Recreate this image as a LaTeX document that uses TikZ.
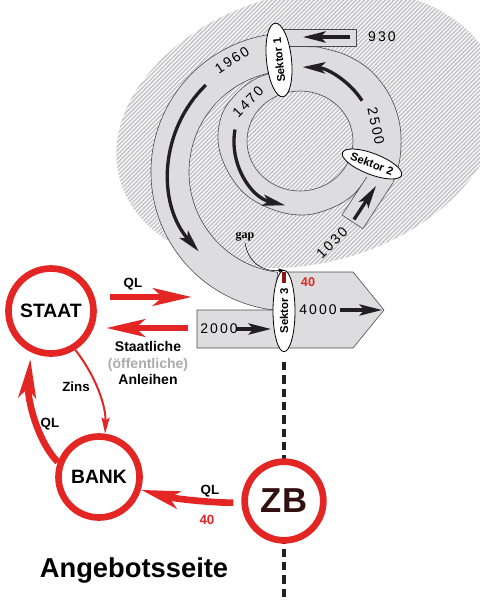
\documentclass[tikz,border=0pt]{standalone}
\usepackage{fontspec}
\setmainfont{Liberation Sans}
\newfontfamily\gapfont{Liberation Serif}
\newfontfamily\numfont[LetterSpace=15]{Liberation Sans}
\usetikzlibrary{arrows.meta}
\usetikzlibrary{shapes.geometric}

\definecolor{qlred}{RGB}{227,38,36}
\definecolor{bandgray}{RGB}{221,221,223}
\definecolor{hatchgray}{RGB}{198,198,200}
\definecolor{flowblack}{RGB}{35,31,32}
\definecolor{gapred}{RGB}{140,22,22}
\definecolor{zbdark}{RGB}{50,16,16}
\definecolor{bracketgray}{RGB}{170,170,170}

\tikzset{
  band/.style={fill=bandgray, draw=black!70, line width=0.45pt},
  flow/.style={draw=flowblack, line width=2.5pt, -{Stealth[length=17pt,width=8.5pt,inset=4pt]}},
  sektor/.style={ellipse, draw=black, fill=white, line width=0.6pt, inner sep=0pt,
    font=\bfseries\fontsize{8.5}{10}\selectfont},
  actor/.style={circle, draw=qlred, fill=white, line width=5pt, inner sep=0pt,
    font=\bfseries\fontsize{14.5}{16}\selectfont},
  qlarrow/.style={draw=qlred, line width=5pt, -{Stealth[length=29pt,width=13pt,inset=7pt]}},
  numlabel/.style={font=\numfont\fontsize{10.5}{12}\selectfont, inner sep=0.75pt},
  txtlabel/.style={font=\bfseries\fontsize{10}{12}\selectfont, inner sep=0.75pt},
}

\begin{document}
\begin{tikzpicture}[x=0.75pt,y=0.75pt,yscale=-1,xscale=1]
\useasboundingbox (0,0) rectangle (480,600);

% Shape: Hatched Ellipse
\begin{scope}
\clip (0,0) rectangle (480,600);
\clip [rotate around={-15:(308,128)}] (308,128) ellipse [x radius=195, y radius=135];
\fill [hatchgray] (0,0) rectangle (480,300);
\draw [white, line width=0.8pt] \foreach \a in {-240,-235.8,...,480} {(\a,300) -- ++(300,-300)};
\end{scope}

% Shape: Band 1960
\draw [band] (270.65,34.35) arc [start angle=262, end angle=97, radius=139] -- (277.69,272.25) arc [start angle=97, end angle=262, radius=101] -- cycle;

% Shape: Ring 1470 / 2500 with inflow 1030
\draw [band, even odd rule] (283,46) -- (318,47) -- plot [smooth, tension=0.6] coordinates {(318,47) (346,55) (371,71) (390,96) (400,126) (400,158) (393,182.7)} -- (362.9,228.7) -- (342,215) -- (366.8,177) -- plot [smooth, tension=0.6] coordinates {(366.8,177) (354,194) (334,207) (305,215) (274,210) (245,194) (226,168) (218,140) (223,112) (239,91) (257,78) (272,73)} -- (283,62) -- cycle (300,141) ellipse [x radius=53, y radius=50];

% Shape: Inflow 930
\draw [band] (281,29) -- (356,29) -- (356,46) -- (281,46);

% Shape: Inflow 2000 and outflow 4000
\draw [band] (284,272) -- (353,272) -- (384,310) -- (353,348) -- (197,348) -- (197,310) -- (273,310) -- cycle;

% Flow arrows
\draw [flow] (350,37) -- (303,37);
\draw [flow] (205.9,84.97) arc [start angle=226, end angle=139, radius=121];
\draw [flow] (235.0,129.5) arc [start angle=190, end angle=103, radius=66];
\draw [flow] (362.1,100.7) arc [start angle=327, end angle=272, radius=74];
\draw [flow] (354,219.5) -- (376,186);
\draw [flow] (340,310) -- (382,310);
\draw [flow] (236,329) -- (271,329);

% Text Node
\draw (232,60) node [numlabel, rotate=33] {1960};
% Text Node
\draw (248,102) node [numlabel, rotate=46] {1470};
% Text Node
\draw (376,126) node [numlabel, rotate=-78] {2500};
% Text Node
\draw (382,37) node [numlabel] {930};
% Text Node
\draw (332,243) node [numlabel, rotate=45] {1030};
% Text Node
\draw (318,310) node [numlabel] {4000};
% Text Node
\draw (219,329) node [numlabel] {2000};

% Axis behind ZB
\coordinate (axisend) at (284,600);

% Sektors
\draw (279,60) node [sektor, rotate=96, minimum width=55.5pt, minimum height=18.75pt] (sek1) {Sektor 1};
\draw (372,164) node [sektor, rotate=-21, minimum width=45pt, minimum height=15.75pt] (sek2) {Sektor 2};
\draw (284,311) node [sektor, rotate=90, minimum width=61pt, minimum height=16.5pt] (sek3) {Sektor 3};

\draw [flowblack, line width=3.3pt, dash pattern=on 6.25pt off 3.75pt, shorten <=7.5pt] (sek3.west) -- (axisend);

% Gap mark
\fill [gapred] (282,272) rectangle (285.5,283);
% Text Node
\draw (245,237) node [inner sep=0.75pt, font=\gapfont\bfseries\fontsize{9}{10}\selectfont] (gap) {gap};
\draw [line width=0.4pt, -{Latex[length=4pt,width=3pt]}] (gap.south) .. controls (248,262) and (262,272) .. (sek3.east);
% Text Node
\draw (308,282) node [txtlabel, text=qlred, font=\bfseries\fontsize{9.5}{11}\selectfont] {40};

% Actors
\draw (51,311) node [actor, minimum size=63.75pt] (staat) {STAAT};
\draw (99,477) node [actor, minimum size=60.75pt] (bank) {BANK};
\draw (284,501) node [actor, minimum size=59pt, text=zbdark, font=\bfseries\fontsize{26}{28}\selectfont] (zb) {ZB};

% QL into the economy, bonds back to the state
\coordinate (qlstart) at (110,297);
\coordinate (qlend) at (192,297);
\coordinate (anlstart) at (188,328);
\coordinate (anlend) at (106,328);
\draw [qlarrow] (qlstart) -- (qlend);
\draw [qlarrow] (anlstart) -- (anlend);
\draw [qlarrow, shorten >=5pt] (bank.160) .. controls (38,442) and (27,400) .. (staat.244);
\draw [qlarrow, shorten <=6pt] (zb.182) .. controls (215,503) and (175,499) .. (bank.-17);
\draw [draw=qlred, line width=1.5pt, -{Stealth[length=12pt,width=6pt,inset=2pt]}] (staat.302) .. controls (95,375) and (106,405) .. (bank.82);

% Text Node
\draw (133,284) node [txtlabel] {QL};
% Text Node
\draw (50,424) node [txtlabel] {QL};
% Text Node
\draw (210,491) node [txtlabel] {QL};
% Text Node
\draw (207,520) node [txtlabel, text=qlred] {40};
% Text Node
\draw (76,387) node [txtlabel] {Zins};
% Text Node
\draw (148,363) node [inner sep=0.75pt, align=center, font=\bfseries\fontsize{10.5}{12.4}\selectfont] {Staatliche\\{\color{bracketgray}(öffentliche)}\\Anleihen};
% Text Node
\draw (134,570) node [inner sep=0.75pt, font=\bfseries\fontsize{20.5}{24}\selectfont] {Angebotsseite};
\end{tikzpicture}
\end{document}
